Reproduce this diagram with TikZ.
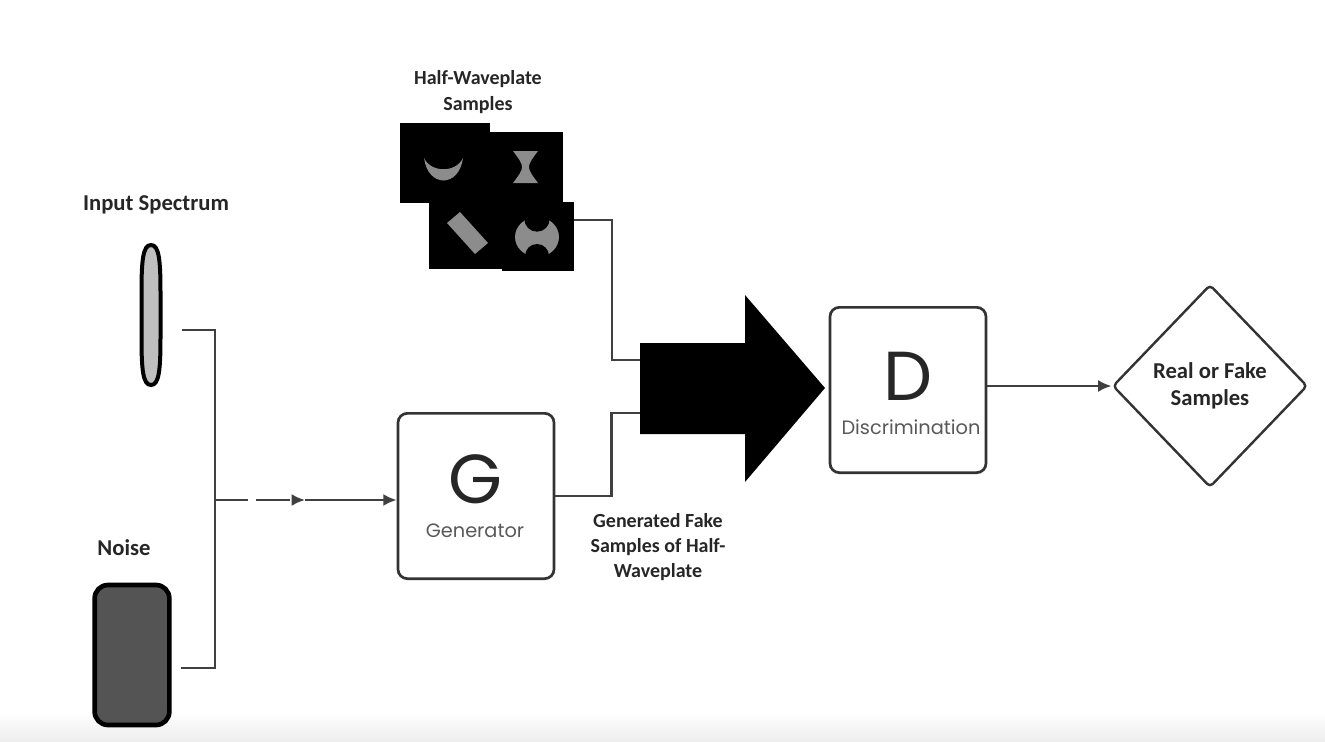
\documentclass[tikz,border=0pt]{standalone}
\usepackage{fontspec}
\setmainfont{Carlito}
\newfontfamily\geofont{Poppins}
\usetikzlibrary{shapes.geometric,arrows.meta}

\begin{document}
\begin{tikzpicture}[x=0.75pt,y=-0.75pt,
  lbl/.style={font=\fontsize{15}{19}\selectfont\bfseries,text=black!85,align=center},
  biglbl/.style={lbl,font=\fontsize{17}{20}\selectfont\bfseries},
  conn/.style={draw=black!75,line width=1.8pt},
  tip/.style={-{Latex[length=10pt,width=9pt]}},
  netbox/.style={rectangle,rounded corners=7pt,draw=black!80,line width=2pt,minimum width=117pt,minimum height=124pt,fill=white},
  big/.style={font=\geofont\fontsize{52}{52}\selectfont,text=black!85,inner sep=0pt},
  sub/.style={font=\geofont\fontsize{14.5}{16}\selectfont,text=black!65,inner sep=0pt},
  glyph/.style={fill=black!45}]
\useasboundingbox (0,0) rectangle (1325,742);
\shade[top color=white,bottom color=black!7] (0,712) rectangle (1325,742);

% inputs
\node[biglbl] (speclbl) at (156,205) {Input Spectrum};
\draw[line width=3pt,fill=black!25] (151,245) .. controls (159,245) and (160.5,260) .. (160.5,292) -- (160.5,338) .. controls (160.5,370) and (159,385) .. (151,385) .. controls (143,385) and (141.5,370) .. (141.5,338) -- (141.5,292) .. controls (141.5,260) and (143,245) .. (151,245) -- cycle;
\node[minimum width=17pt,minimum height=108pt,inner sep=0pt] (spec) at (151,315) {};
\node[biglbl] (noiselbl) at (124,548) {Noise};
\node[rectangle,rounded corners=10pt,draw=black,line width=3.5pt,fill=black!67,minimum width=56pt,minimum height=105pt] (noise) at (132,655) {};

\coordinate (j) at (215,500);
\coordinate (mid) at (305,500);
\draw[conn] ([shift={(19,15)}]spec.east) -| (j);
\draw[conn] ([shift={(9,13)}]noise.east) -| (j);
\draw[conn,dash pattern=on 25pt off 6pt,tip] (j) -- (mid);

% generator
\node[netbox] (gen) at (476,496) {};
\node[big] (genG) at (475,479) {G};
\node[sub] (gentxt) at (475,531) {Generator};
\draw[conn,tip] (mid) -- (gen.west |- mid);

% real samples
\node[lbl] (smplbl) at (478,92) {Half-Waveplate\\Samples};
\fill (400,123) rectangle (490,203);
\fill (490,132) rectangle (563,203);
\fill (429,202) rectangle (503,269);
\fill (502,202) rectangle (574,271);
\fill[glyph] (424,158) .. controls (428,188) and (459,188) .. (463,158) .. controls (456,173) and (431,173) .. (424,158) -- cycle;
\fill[glyph] (513,151) -- (538,151) .. controls (526,167) .. (538,183) -- (513,183) .. controls (525,167) .. (513,151) -- cycle;
\fill[glyph] (447,223) -- (460,212) -- (488,243) -- (475,254) -- cycle;
\fill[glyph] (537,237) ellipse [x radius=16.5pt,y radius=15pt];
\fill (537,219) circle (9.5pt);
\fill (537,256) circle (9pt);

% into the discriminator
\coordinate (smp) at (574,220);
\coordinate (in1) at (641,360);
\coordinate (in2) at (641,413);
\draw[conn] (smp) -- ++(38,0) |- (in1);
\draw[conn] (gen.east) -- ++(56,0) |- (in2);
\fill (640,343) -- (745,343) -- (745,295) -- (825,388) -- (745,482) -- (745,434) -- (640,434) -- cycle;
\node[lbl] (fakelbl) at (658,547) {Generated Fake\\Samples of Half-\\Waveplate};

\node[netbox] (disc) at (908,390) {};
\node[big] (discD) at (908,376) {D};
\node[sub] (disctxt) at (911,427) {Discrimination};

\node[diamond,draw=black!80,line width=1.8pt,rounded corners=3pt,minimum width=146pt,minimum height=152pt,inner sep=0pt,biglbl] (res) at (1210,386) {Real or Fake\\Samples};
\draw[conn,tip] (disc.east |- res.west) -- (res.west);
\end{tikzpicture}
\end{document}
